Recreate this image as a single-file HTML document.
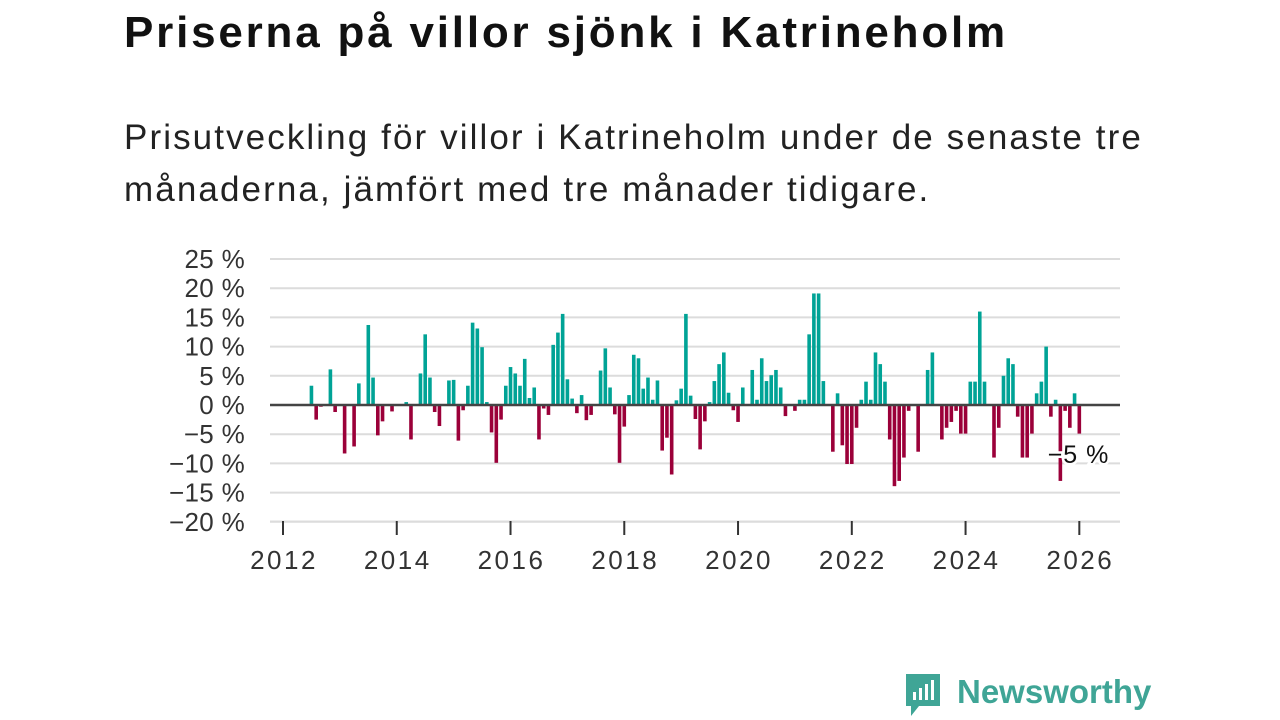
<!DOCTYPE html>
<html><head><meta charset="utf-8"><style>
body{margin:0;width:1280px;height:720px;background:#fff;font-family:"Liberation Sans",sans-serif;overflow:hidden;position:relative}
h1{position:absolute;left:124px;top:8px;margin:0;font-size:44px;font-weight:bold;color:#111;letter-spacing:2.8px;white-space:nowrap}
p{position:absolute;left:124px;top:112px;margin:0;font-size:35px;letter-spacing:2.1px;line-height:52px;color:#222;width:1060px}
svg{position:absolute;left:0;top:0}
</style></head><body>
<h1>Priserna på villor sjönk i Katrineholm</h1>
<p>Prisutveckling för villor i Katrineholm under de senaste tre månaderna, jämfört med tre månader tidigare.</p>
<svg id="c" width="1280" height="720"></svg>
<script>
const startMonth = 6;
const values = [3.3,-2.5,-0.3,0,6.1,-1.2,0,-8.3,0,-7.1,3.7,0,13.7,4.7,-5.2,-2.8,0,-1.1,0,0,0.5,-5.9,0,5.4,12.1,4.7,-1.2,-3.6,0,4.2,4.3,-6.1,-0.9,3.3,14.1,13.1,9.9,0.5,-4.7,-9.9,-2.5,3.3,6.5,5.4,3.3,7.9,1.2,3.0,-5.9,-0.6,-1.7,10.3,12.4,15.6,4.4,1.1,-1.4,1.7,-2.6,-1.7,0,5.9,9.7,3.0,-1.6,-9.9,-3.7,1.7,8.6,8.0,2.8,4.7,0.9,4.2,-7.8,-5.6,-11.9,0.8,2.8,15.6,1.6,-2.4,-7.6,-2.8,0.5,4.1,7.0,9.0,2.1,-0.9,-2.9,3.0,0,6.0,0.9,8.0,4.1,5.1,6.0,3.0,-1.9,0,-1.0,0.9,0.9,12.1,19.1,19.1,4.1,0,-8.0,2.0,-6.9,-10.1,-10.1,-3.9,0.9,4.0,0.9,9.0,7.0,4.0,-5.9,-13.9,-13.0,-9.0,-1.0,0,-8.0,0,6.0,9.0,0,-5.9,-3.9,-2.9,-1.0,-4.9,-4.9,4.0,4.0,16.0,4.0,0,-9.0,-3.9,5.0,8.0,7.0,-2.0,-9.0,-9.0,-4.9,2.0,4.0,10.0,-2.0,0.9,-13.0,-1.0,-3.9,2.0,-4.9];
const yTicks = [25,20,15,10,5,0,-5,-10,-15,-20];
const xTicks = [2012,2014,2016,2018,2020,2022,2024,2026];
const lastLabel = "−5 %";
const NS="http://www.w3.org/2000/svg", svg=document.getElementById('c');
const y=v=>405-v*5.84;
const xm=m=>283+m*4.74;
const xy=yr=>xm((yr-2012)*12);
function mk(t,a,p){const e=document.createElementNS(NS,t);for(const k in a)e.setAttribute(k,a[k]);(p||svg).appendChild(e);return e;}
yTicks.forEach(t=>{
  if(t!==0){const l=mk('line',{x1:270,x2:1120,y1:y(t),y2:y(t),stroke:'#dcdcdc','stroke-width':2});
  
  }
  const tx=mk('text',{x:245,y:y(t)+9,'text-anchor':'end','font-size':26,'letter-spacing':0.3,fill:'#333','font-family':'Liberation Sans, sans-serif'});
  tx.textContent=(t<0?'−'+(-t):t)+' %';
  
  
});
values.forEach((v,i)=>{
  if(v===0)return;
  const m=startMonth+i;
  const r=mk('rect',{x:xm(m)-1.8,width:3.6,y:Math.min(y(v),y(0)),height:Math.abs(y(v)-y(0)),fill:v>0?'#00a396':'#9b0039'});
  
  
});
const z=mk('line',{x1:270,x2:1120,y1:y(0),y2:y(0),stroke:'#444','stroke-width':2.5});


const ax=mk('line',{x1:270,x2:1120,y1:521,y2:521,stroke:'#ddd','stroke-width':1});


xTicks.forEach(t=>{
  const l=mk('line',{x1:xy(t),x2:xy(t),y1:521,y2:535,stroke:'#333','stroke-width':2});
  
  
  const tx=mk('text',{x:xy(t)+1,y:569,'text-anchor':'middle','font-size':26,'letter-spacing':2.5,fill:'#333','font-family':'Liberation Sans, sans-serif'});
  tx.textContent=t;
  
  
});
const lm=startMonth+values.length-1;
const lb=mk('text',{x:xm(lm)+30,y:463,'text-anchor':'end','font-size':25,'letter-spacing':1,fill:'#111',stroke:'#fff','stroke-width':5,'paint-order':'stroke','font-family':'Liberation Sans, sans-serif'});
lb.textContent=lastLabel;


</script>
<div style="position:absolute;left:903px;top:672px;display:flex;align-items:center">
<svg width="40" height="46" viewBox="0 0 40 46" style="position:static"><path d="M3 2h34v32H16l-8 10v-10H3z" fill="#3fa596"/><rect x="10" y="20" width="3" height="8" fill="#fff"/><rect x="16" y="16" width="3" height="12" fill="#fff"/><rect x="22" y="12" width="3" height="16" fill="#fff"/><rect x="28" y="8" width="3" height="20" fill="#fff"/></svg>
<span style="font-size:33px;font-weight:bold;color:#3fa596;margin-left:14px;margin-top:-6px">Newsworthy</span></div>
</body></html>
